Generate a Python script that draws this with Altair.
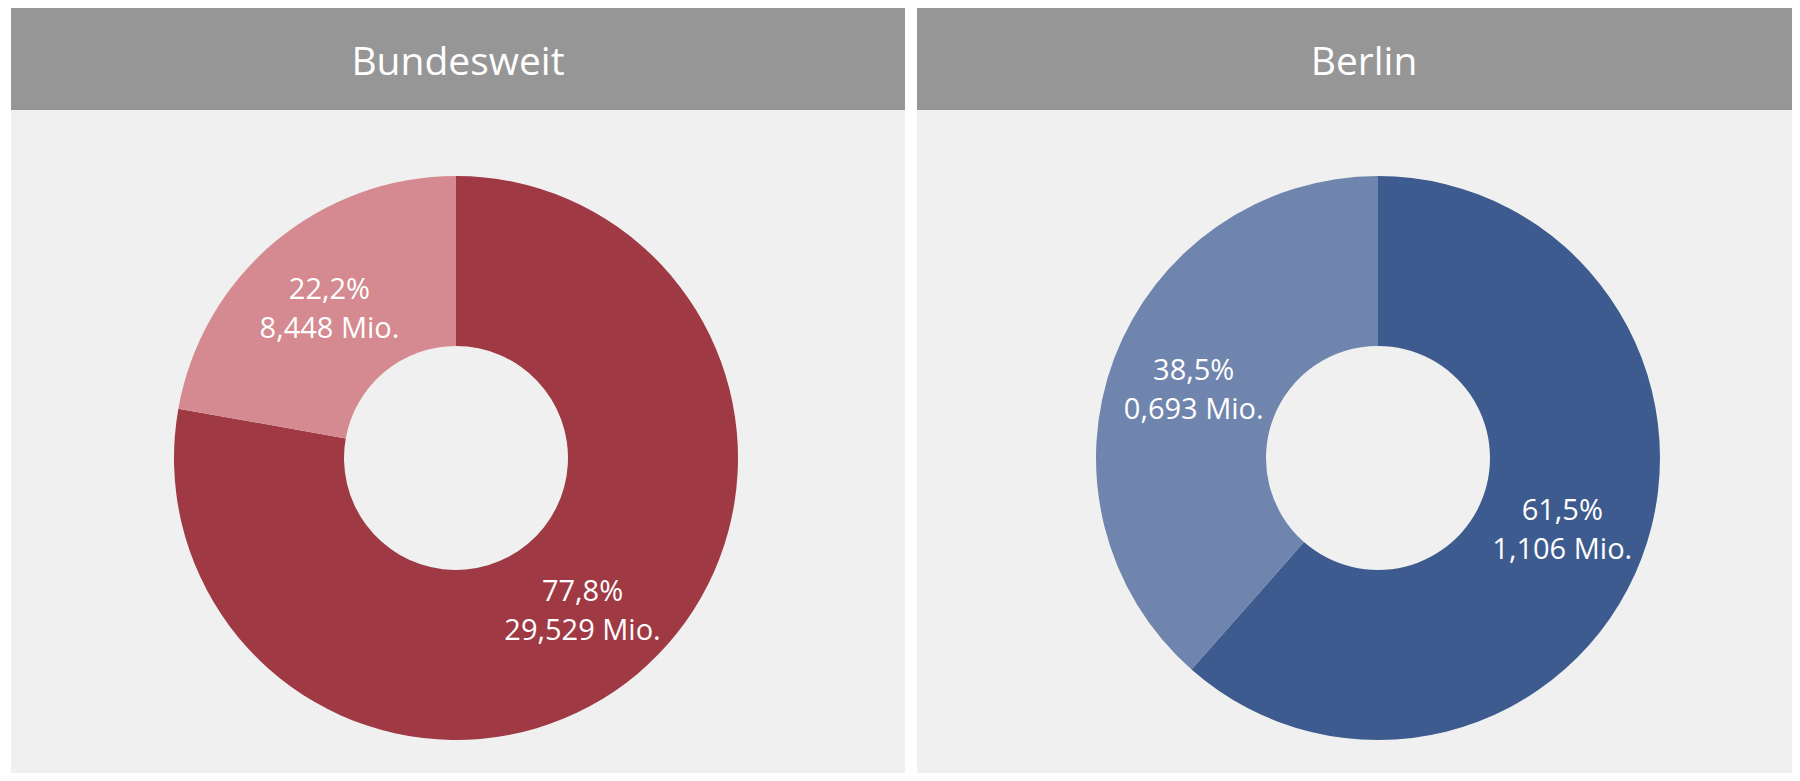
import altair as alt
import pandas as pd

# ---- data ----
regions = ["Bundesweit", "Berlin"]
segments = ["Teil 1", "Teil 2"]
pct_bund = [77.8, 22.2]
mio_bund = [29.529, 8.448]
pct_berlin = [61.5, 38.5]
mio_berlin = [1.106, 0.693]

colors_bund = ["#9f3a45", "#d48a90"]
colors_berlin = ["#3d5b8e", "#7085ae"]

HEADER = "#959695"
BODY = "#f0f0f0"
FONT = "Open Sans"
H = 765
HEADER_H = 102
CY = 450
R_OUT = 282
R_IN = 112


def de(v, d):
    return f"{v:.{d}f}".replace(".", ",")


def panel(title, pct, mio, colors, width, cx):
    df = pd.DataFrame({
        "seg": segments,
        "idx": [0, 1],
        "pct": pct,
        "mio": mio,
        "label": [f"{de(p, 1)}%\n{de(m, 3)} Mio." for p, m in zip(pct, mio)],
    })
    tdf = pd.DataFrame({"t": [title]})
    header = alt.Chart(tdf).mark_rect(color=HEADER).encode(
        x=alt.value(0), x2=alt.value(width), y=alt.value(0), y2=alt.value(HEADER_H)
    )
    ttext = alt.Chart(tdf).mark_text(
        font=FONT, fontSize=39, color="white", baseline="middle", align="center"
    ).encode(x=alt.value(447), y=alt.value(55), text="t:N")
    base = alt.Chart(df)
    arc = base.mark_arc(innerRadius=R_IN, outerRadius=R_OUT).encode(
        theta=alt.Theta("pct:Q", stack=True),
        order=alt.Order("idx:Q"),
        color=alt.Color("seg:N", scale=alt.Scale(domain=segments, range=colors), legend=None),
        x=alt.value(cx),
        y=alt.value(CY),
    )
    text = base.mark_text(
        radius=(R_OUT + R_IN) / 2, font=FONT, fontSize=29, color="white",
        lineBreak="\n", lineHeight=39, align="center", baseline="middle", dy=-17,
    ).encode(
        theta=alt.Theta("pct:Q", stack=True),
        order=alt.Order("idx:Q"),
        text="label:N",
        x=alt.value(cx),
        y=alt.value(CY),
    )
    return alt.layer(header, ttext, arc, text).properties(width=width, height=H)


left = panel(regions[0], pct_bund, mio_bund, colors_bund, 894, 445)
right = panel(regions[1], pct_berlin, mio_berlin, colors_berlin, 875, 461)

chart = (
    alt.hconcat(left, right, spacing=12)
    .resolve_scale(color="independent", theta="independent")
    .configure_view(fill=BODY, stroke=None)
    .properties(padding={"left": 3, "top": 0, "right": 0, "bottom": 0}, background="white")
)

chart.save("out.html", embed_options={"renderer": "svg", "actions": False})
